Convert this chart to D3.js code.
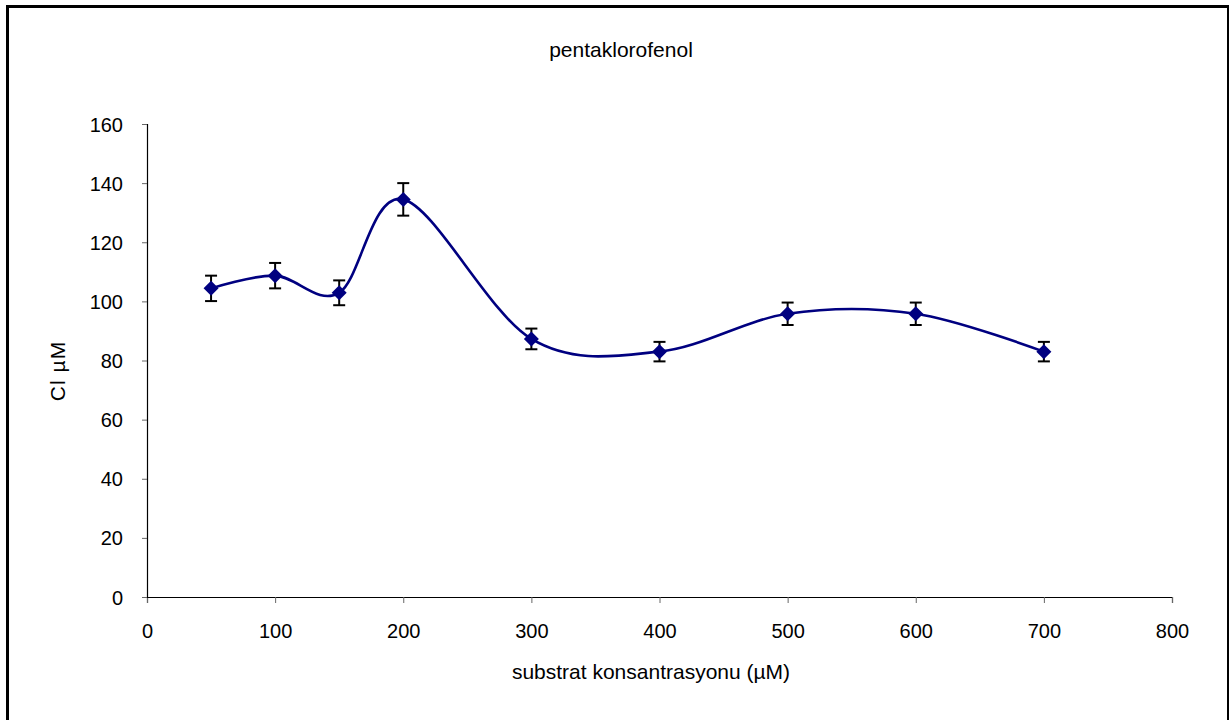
<!DOCTYPE html>
<html>
<head>
<meta charset="utf-8">
<script src="https://cdn.jsdelivr.net/npm/d3@7"></script>
<style>
  body { margin: 0; background: #fff; }
  svg { display: block; font-family: "Liberation Sans", Arial, sans-serif; }
</style>
</head>
<body>
<div id="chart"></div>
<script>
// substrate concentration (µM)
const concentrations = [50, 100, 150, 200, 300, 400, 500, 600, 700];
// Cl µM measured
const chloride = [104.4, 108.7, 102.9, 134.5, 87.3, 83.0, 95.8, 95.8, 83.0];
// error (±)
const errors = [4.3, 4.3, 4.2, 5.5, 3.5, 3.3, 3.8, 3.8, 3.3];

const xTicks = [0, 100, 200, 300, 400, 500, 600, 700, 800];
const yTicks = [0, 20, 40, 60, 80, 100, 120, 140, 160];

const width = 1229, height = 720;
const margin = { top: 124, right: 57, bottom: 123, left: 147 };
const innerWidth = width - margin.left - margin.right;
const innerHeight = height - margin.top - margin.bottom;

const data = concentrations.map((c, i) => ({ x: c, y: chloride[i], err: errors[i] }));

const svg = d3.select("#chart").append("svg")
    .attr("width", width)
    .attr("height", height);

// outer chart frame (bottom edge falls outside the picture)
svg.append("path")
    .attr("d", `M7.5,${height}V6.5H1228.5V${height}`)
    .attr("fill", "none")
    .attr("stroke", "#000")
    .attr("stroke-width", 3);

const innerChart = svg.append("g")
    .attr("transform", `translate(${margin.left}, ${margin.top})`);

const xScale = d3.scaleLinear()
    .domain([0, 800])
    .range([0, innerWidth]);

const yScale = d3.scaleLinear()
    .domain([0, 160])
    .range([innerHeight, 0]);

// axes
const xAxis = innerChart.append("g")
    .attr("transform", `translate(0, ${innerHeight})`)
    .call(d3.axisBottom(xScale).tickValues(xTicks).tickSize(6).tickPadding(21).tickFormat(d3.format("d")));

const yAxis = innerChart.append("g")
    .call(d3.axisLeft(yScale).tickValues(yTicks).tickSize(5).tickPadding(19).tickFormat(d3.format("d")));

[xAxis, yAxis].forEach(ax => {
    ax.attr("font-size", null).attr("font-family", null);
    ax.select(".domain").attr("stroke", "#000").attr("stroke-width", 1.2);
    ax.selectAll(".tick line").attr("stroke", "#666").attr("stroke-width", 1);
    ax.selectAll(".tick text")
        .attr("fill", "#000")
        .style("font-size", "20px");
});
xAxis.selectAll(".tick text").attr("dy", "0.71em");
yAxis.selectAll(".tick text").attr("dy", "0.35em");

// smoothed line
const line = d3.line()
    .x(d => xScale(d.x))
    .y(d => yScale(d.y))
    .curve(d3.curveCardinal.tension(0));

innerChart.append("path")
    .datum(data)
    .attr("d", line)
    .attr("fill", "none")
    .attr("stroke", "#000080")
    .attr("stroke-width", 2.6);

// error bars
const bars = innerChart.selectAll(".err")
    .data(data)
    .join("g")
        .attr("class", "err")
        .attr("stroke", "#000")
        .attr("stroke-width", 2);

bars.append("line")
    .attr("x1", d => xScale(d.x)).attr("x2", d => xScale(d.x))
    .attr("y1", d => yScale(d.y + d.err)).attr("y2", d => yScale(d.y - d.err));
bars.append("line")
    .attr("x1", d => xScale(d.x) - 6).attr("x2", d => xScale(d.x) + 6)
    .attr("y1", d => yScale(d.y + d.err)).attr("y2", d => yScale(d.y + d.err));
bars.append("line")
    .attr("x1", d => xScale(d.x) - 6).attr("x2", d => xScale(d.x) + 6)
    .attr("y1", d => yScale(d.y - d.err)).attr("y2", d => yScale(d.y - d.err));

// diamond markers
innerChart.selectAll(".marker")
    .data(data)
    .join("path")
        .attr("class", "marker")
        .attr("transform", d => `translate(${xScale(d.x)}, ${yScale(d.y)})`)
        .attr("d", "M0,-7.5L7.5,0L0,7.5L-7.5,0Z")
        .attr("fill", "#000080");

// titles
svg.append("text")
    .attr("x", 621).attr("y", 57)
    .attr("text-anchor", "middle")
    .style("font-size", "21px")
    .text("pentaklorofenol");

svg.append("text")
    .attr("x", 651).attr("y", 679)
    .attr("text-anchor", "middle")
    .style("font-size", "21px")
    .text("substrat konsantrasyonu (µM)");

svg.append("text")
    .attr("transform", "translate(65, 371) rotate(-90)")
    .attr("text-anchor", "middle")
    .style("font-size", "21px")
    .style("letter-spacing", "1px")
    .text("Cl µM");
</script>
</body>
</html>
